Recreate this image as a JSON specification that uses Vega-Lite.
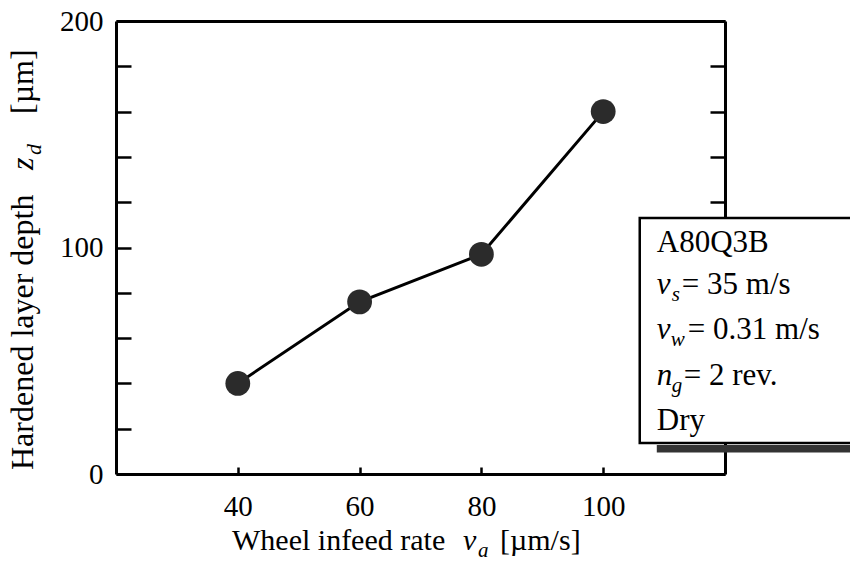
{
  "$schema": "https://vega.github.io/schema/vega-lite/v6.json",
  "width": 609,
  "height": 453,
  "autosize": "none",
  "padding": {"left": 116, "top": 21, "right": 125, "bottom": 91},
  "background": "white",
  "config": {
    "view": {"stroke": null},
    "font": "Liberation Serif",
    "axis": {
      "grid": false,
      "domainColor": "black",
      "domainWidth": 3,
      "tickColor": "black",
      "tickWidth": 2.5,
      "labelFont": "Liberation Serif",
      "labelFontSize": 29,
      "labelColor": "black",
      "labelFlush": false,
      "labelOverlap": false,
      "title": null
    },
    "text": {"font": "Liberation Serif", "color": "black", "align": "left", "baseline": "alphabetic"}
  },
  "resolve": {"axis": {"x": "independent", "y": "independent"}},
  "layer": [
    {
      "data": {"values": [
        {"va": 40, "zd": 40},
        {"va": 60, "zd": 76},
        {"va": 80, "zd": 97},
        {"va": 100, "zd": 160}
      ]},
      "mark": {"type": "line", "color": "black", "strokeWidth": 3},
      "encoding": {
        "x": {"field": "va", "type": "quantitative", "scale": {"domain": [20, 120], "nice": false, "zero": false},
              "axis": {"orient": "bottom", "values": [40, 60, 80, 100], "tickSize": -7, "labelPadding": 25}},
        "y": {"field": "zd", "type": "quantitative", "scale": {"domain": [0, 200], "nice": false},
              "axis": {"orient": "left", "values": [0, 20, 40, 60, 80, 100, 120, 140, 160, 180, 200], "tickSize": -15, "labelPadding": 28,
                       "labelExpr": "datum.value % 100 === 0 ? datum.label : ''"}}
      }
    },
    {
      "data": {"values": [
        {"va": 40, "zd": 40},
        {"va": 60, "zd": 76},
        {"va": 80, "zd": 97},
        {"va": 100, "zd": 160}
      ]},
      "mark": {"type": "point", "filled": true, "size": 615, "color": "#2b2b2b", "opacity": 1},
      "encoding": {
        "x": {"field": "va", "type": "quantitative", "axis": null},
        "y": {"field": "zd", "type": "quantitative", "axis": null}
      }
    },
    {
      "data": {"values": [{}]},
      "mark": {"type": "point", "opacity": 0},
      "encoding": {
        "x": {"datum": 20, "axis": {"orient": "top", "ticks": false, "labels": false}},
        "y": {"datum": 0, "axis": {"orient": "right", "values": [0, 20, 40, 60, 80, 100, 120, 140, 160, 180, 200], "tickSize": -15, "labels": false}}
      }
    },
    {
      "data": {"values": [{}]},
      "mark": {"type": "rect", "fill": "#333333", "clip": false},
      "encoding": {
        "x": {"datum": 108.8, "axis": null}, "x2": {"datum": 150},
        "y": {"datum": 12.8, "axis": null}, "y2": {"datum": 9.5}
      }
    },
    {
      "data": {"values": [{}]},
      "mark": {"type": "rect", "fill": "white", "stroke": "black", "strokeWidth": 2.5, "clip": false},
      "encoding": {
        "x": {"datum": 106.0, "axis": null}, "x2": {"datum": 150},
        "y": {"datum": 113.0, "axis": null}, "y2": {"datum": 13.7}
      }
    },
    {
      "data": {"values": [{}]},
      "mark": {"type": "text", "text": "A80Q3B", "fontSize": 31},
      "encoding": {"x": {"datum": 108.8, "axis": null}, "y": {"datum": 98.0, "axis": null}}
    },
    {
      "data": {"values": [{}]},
      "mark": {"type": "text", "text": "v", "fontSize": 31, "fontStyle": "italic"},
      "encoding": {"x": {"datum": 108.8, "axis": null}, "y": {"datum": 79.5, "axis": null}}
    },
    {
      "data": {"values": [{}]},
      "mark": {"type": "text", "text": "s", "fontSize": 21, "fontStyle": "italic", "dx": 15, "dy": 7},
      "encoding": {"x": {"datum": 108.8, "axis": null}, "y": {"datum": 79.5, "axis": null}}
    },
    {
      "data": {"values": [{}]},
      "mark": {"type": "text", "text": "= 35 m/s", "fontSize": 31, "dx": 25},
      "encoding": {"x": {"datum": 108.8, "axis": null}, "y": {"datum": 79.5, "axis": null}}
    },
    {
      "data": {"values": [{}]},
      "mark": {"type": "text", "text": "v", "fontSize": 31, "fontStyle": "italic"},
      "encoding": {"x": {"datum": 108.8, "axis": null}, "y": {"datum": 59.6, "axis": null}}
    },
    {
      "data": {"values": [{}]},
      "mark": {"type": "text", "text": "w", "fontSize": 21, "fontStyle": "italic", "dx": 14, "dy": 7},
      "encoding": {"x": {"datum": 108.8, "axis": null}, "y": {"datum": 59.6, "axis": null}}
    },
    {
      "data": {"values": [{}]},
      "mark": {"type": "text", "text": "= 0.31 m/s", "fontSize": 31, "dx": 31},
      "encoding": {"x": {"datum": 108.8, "axis": null}, "y": {"datum": 59.6, "axis": null}}
    },
    {
      "data": {"values": [{}]},
      "mark": {"type": "text", "text": "n", "fontSize": 31, "fontStyle": "italic"},
      "encoding": {"x": {"datum": 108.8, "axis": null}, "y": {"datum": 39.3, "axis": null}}
    },
    {
      "data": {"values": [{}]},
      "mark": {"type": "text", "text": "g", "fontSize": 21, "fontStyle": "italic", "dx": 15, "dy": 7},
      "encoding": {"x": {"datum": 108.8, "axis": null}, "y": {"datum": 39.3, "axis": null}}
    },
    {
      "data": {"values": [{}]},
      "mark": {"type": "text", "text": "= 2 rev.", "fontSize": 31, "dx": 27},
      "encoding": {"x": {"datum": 108.8, "axis": null}, "y": {"datum": 39.3, "axis": null}}
    },
    {
      "data": {"values": [{}]},
      "mark": {"type": "text", "text": "Dry", "fontSize": 31},
      "encoding": {"x": {"datum": 108.8, "axis": null}, "y": {"datum": 19.4, "axis": null}}
    },
    {
      "data": {"values": [{}]},
      "mark": {"type": "text", "text": "Wheel infeed rate", "fontSize": 30, "clip": false},
      "encoding": {"x": {"datum": 39.05, "axis": null}, "y": {"datum": -33.55, "axis": null}}
    },
    {
      "data": {"values": [{}]},
      "mark": {"type": "text", "text": "v", "fontSize": 30, "fontStyle": "italic", "dx": 231},
      "encoding": {"x": {"datum": 39.05, "axis": null}, "y": {"datum": -33.55, "axis": null}}
    },
    {
      "data": {"values": [{}]},
      "mark": {"type": "text", "text": "a", "fontSize": 21, "fontStyle": "italic", "dx": 246, "dy": 7},
      "encoding": {"x": {"datum": 39.05, "axis": null}, "y": {"datum": -33.55, "axis": null}}
    },
    {
      "data": {"values": [{}]},
      "mark": {"type": "text", "text": "[µm/s]", "fontSize": 30, "dx": 268},
      "encoding": {"x": {"datum": 39.05, "axis": null}, "y": {"datum": -33.55, "axis": null}}
    },
    {
      "data": {"values": [{}]},
      "mark": {"type": "text", "text": "Hardened layer depth", "fontSize": 32, "angle": 270},
      "encoding": {"x": {"datum": 6.4, "axis": null}, "y": {"datum": 1.77, "axis": null}}
    },
    {
      "data": {"values": [{}]},
      "mark": {"type": "text", "text": "z", "fontSize": 32, "fontStyle": "italic", "angle": 270, "dx": 300},
      "encoding": {"x": {"datum": 6.4, "axis": null}, "y": {"datum": 1.77, "axis": null}}
    },
    {
      "data": {"values": [{}]},
      "mark": {"type": "text", "text": "d", "fontSize": 22, "fontStyle": "italic", "angle": 270, "dx": 315, "dy": 8},
      "encoding": {"x": {"datum": 6.4, "axis": null}, "y": {"datum": 1.77, "axis": null}}
    },
    {
      "data": {"values": [{}]},
      "mark": {"type": "text", "text": "[µm]", "fontSize": 32, "angle": 270, "dx": 356},
      "encoding": {"x": {"datum": 6.4, "axis": null}, "y": {"datum": 1.77, "axis": null}}
    }
  ]
}
